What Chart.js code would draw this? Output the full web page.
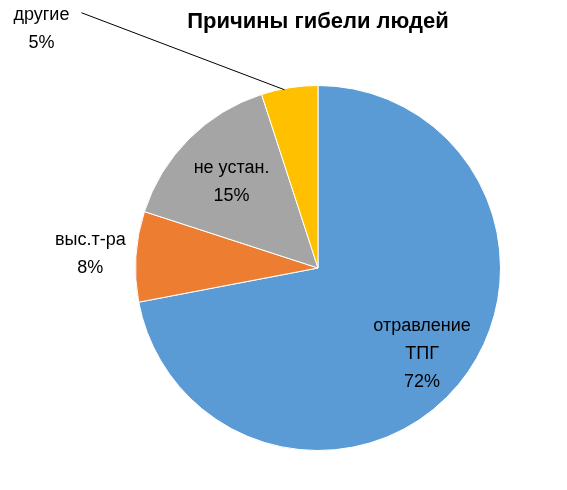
<!DOCTYPE html>
<html lang="ru">
<head>
<meta charset="UTF-8">
<title>Причины гибели людей</title>
<script src="https://cdn.jsdelivr.net/npm/chart.js"></script>
<style>
  html, body { margin: 0; padding: 0; background: #fff; }
  #wrap { width: 567px; height: 490px; }
</style>
</head>
<body>
<div id="wrap"><canvas id="pie"></canvas></div>
<script>
const categories = [['отравление', 'ТПГ'], ['выс.т-ра'], ['не устан.'], ['другие']];
const values = [72, 8, 15, 5];
const colors = ['#5B9BD5', '#ED7D31', '#A5A5A5', '#FFC000'];

const FONT = '"Liberation Sans", Arial, sans-serif';

const labelPlugin = {
  id: 'sliceLabels',
  afterDatasetsDraw(chart) {
    const ctx = chart.ctx;
    const meta = chart.getDatasetMeta(0);
    ctx.save();
    ctx.font = '18px ' + FONT;
    ctx.fillStyle = '#000';
    ctx.textAlign = 'center';
    ctx.textBaseline = 'middle';
    const radial = [0.74, 1.25, 0.67, 1.0];
    meta.data.forEach((arc, i) => {
      const mid = (arc.startAngle + arc.endAngle) / 2;
      const r = arc.outerRadius * radial[i];
      let x = arc.x + Math.cos(mid) * r;
      let y = arc.y + Math.sin(mid) * r;
      const lines = categories[i].concat([values[i] + '%']);
      if (i === 3) {
        const ex = x, ey = y;
        x = ex - 248; y = ey - 60;
        ctx.strokeStyle = '#000';
        ctx.lineWidth = 1;
        ctx.beginPath();
        ctx.moveTo(ex - 5, ey + 2);
        ctx.lineTo(x + 40, y - 15);
        ctx.stroke();
        y += 1;
      }
      const lh = 28;
      const y0 = y - (lines.length - 1) * lh / 2;
      lines.forEach((t, k) => ctx.fillText(t, x, y0 + k * lh));
    });
    ctx.font = 'bold 22px ' + FONT;
    ctx.fillText('Причины гибели людей', 318, 22);
    ctx.restore();
  }
};

new Chart(document.getElementById('pie'), {
  type: 'pie',
  data: {
    labels: categories.map(c => c.join(' ')),
    datasets: [{ data: values, backgroundColor: colors, borderColor: '#fff', borderWidth: 1 }]
  },
  options: {
    responsive: true,
    maintainAspectRatio: false,
    animation: false,
    layout: { padding: { top: 85, bottom: 39, left: 135, right: 66 } },
    plugins: { legend: { display: false }, tooltip: { enabled: false }, title: { display: false } }
  },
  plugins: [labelPlugin]
});
</script>
</body>
</html>
